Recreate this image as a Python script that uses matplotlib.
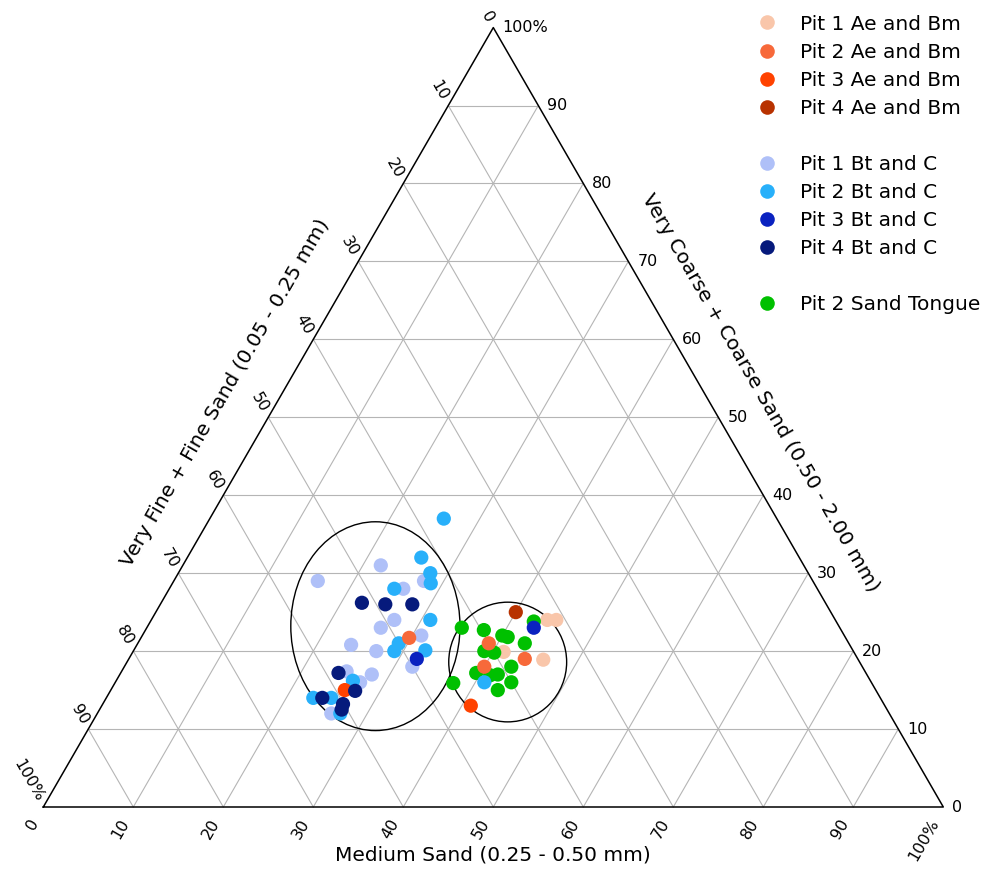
import numpy as np
import matplotlib
matplotlib.use("Agg")
import matplotlib.pyplot as plt
from matplotlib.lines import Line2D
from matplotlib.patches import Ellipse

plt.rcParams['font.family'] = ['DejaVu Sans']

# composition of each sample in percent: fine, medium, coarse
pit1_ae_fine = [32.0, 31.0, 38.9, 35.0]
pit1_ae_medium = [44.0, 45.0, 41.2, 46.1]
pit1_ae_coarse = [24.0, 24.0, 19.9, 18.9]

pit2_ae_fine = [48.5, 40.0, 37.0, 42.0]
pit2_ae_medium = [29.8, 39.0, 44.0, 40.0]
pit2_ae_coarse = [21.7, 21.0, 19.0, 18.0]

pit3_ae_fine = [59.0, 46.0]
pit3_ae_medium = [26.0, 41.0]
pit3_ae_coarse = [15.0, 13.0]

pit4_ae_fine = [35.0]
pit4_ae_medium = [40.0]
pit4_ae_coarse = [25.0]

pit1_bt_fine = [47.0, 55.0, 43.2, 46.0, 49.0, 51.0, 47.0, 55.4, 53.0, 50.0, 55.0, 56.8, 57.6, 62.0]
pit1_bt_medium = [22.0, 16.0, 27.8, 26.0, 27.0, 26.0, 31.0, 23.8, 27.0, 32.0, 28.0, 27.2, 25.0, 26.0]
pit1_bt_coarse = [31.0, 29.0, 29.0, 28.0, 24.0, 23.0, 22.0, 20.8, 20.0, 18.0, 17.0, 16.0, 17.4, 12.0]

pit2_bt_fine = [37.0, 42.0, 42.0, 42.6, 47.0, 45.0, 50.0, 51.0, 47.5, 57.5, 63.0, 61.0, 61.0, 43.0]
pit2_bt_medium = [26.0, 26.0, 28.0, 28.7, 25.0, 31.0, 29.0, 29.0, 32.4, 26.3, 23.0, 25.0, 27.0, 41.0]
pit2_bt_coarse = [37.0, 32.0, 30.0, 28.7, 28.0, 24.0, 21.0, 20.0, 20.1, 16.2, 14.0, 14.0, 12.0, 16.0]

pit3_bt_fine = [49.0, 34.0]
pit3_bt_medium = [32.0, 43.0]
pit3_bt_coarse = [19.0, 23.0]

pit4_bt_fine = [51.5, 49.0, 46.0, 58.6, 57.9, 62.0, 60.1, 60.6]
pit4_bt_medium = [22.3, 25.0, 28.0, 24.2, 27.2, 24.0, 26.7, 26.9]
pit4_bt_coarse = [26.2, 26.0, 26.0, 17.2, 14.9, 14.0, 13.2, 12.5]

tongue_fine = [42.0, 39.7, 33.6, 38.0, 37.5, 36.0, 41.0, 40.0, 39.0, 43.3, 41.9, 41.0, 40.0, 42.0, 46.5]
tongue_medium = [35.0, 37.6, 42.6, 40.0, 40.7, 43.0, 39.0, 40.2, 43.0, 39.5, 41.2, 42.0, 44.0, 43.0, 37.6]
tongue_coarse = [23.0, 22.7, 23.8, 22.0, 21.8, 21.0, 20.0, 19.8, 18.0, 17.2, 16.9, 17.0, 16.0, 15.0, 15.9]

# grouping ellipses: centre (fine, medium, coarse), width, height in % of side
ellipse_centres = [(51.5, 25.3, 23.2), (39.1, 42.3, 18.6)]
ellipse_sizes = [(18.8, 23.2), (13.1, 13.3)]

legend_labels = ['Pit 1 Ae and Bm', 'Pit 2 Ae and Bm', 'Pit 3 Ae and Bm', 'Pit 4 Ae and Bm',
                 'Pit 1 Bt and C', 'Pit 2 Bt and C', 'Pit 3 Bt and C', 'Pit 4 Bt and C',
                 'Pit 2 Sand Tongue']
colors = {
    'Pit 1 Ae and Bm': '#f9c6aa',
    'Pit 2 Ae and Bm': '#f7693a',
    'Pit 3 Ae and Bm': '#ff4200',
    'Pit 4 Ae and Bm': '#b83200',
    'Pit 1 Bt and C': '#afc0f8',
    'Pit 2 Bt and C': '#28b0fa',
    'Pit 3 Bt and C': '#0a22c0',
    'Pit 4 Bt and C': '#061a7c',
    'Pit 2 Sand Tongue': '#00c000',
}

series = {
    'Pit 1 Ae and Bm': (pit1_ae_medium, pit1_ae_coarse),
    'Pit 2 Ae and Bm': (pit2_ae_medium, pit2_ae_coarse),
    'Pit 3 Ae and Bm': (pit3_ae_medium, pit3_ae_coarse),
    'Pit 4 Ae and Bm': (pit4_ae_medium, pit4_ae_coarse),
    'Pit 1 Bt and C': (pit1_bt_medium, pit1_bt_coarse),
    'Pit 2 Bt and C': (pit2_bt_medium, pit2_bt_coarse),
    'Pit 3 Bt and C': (pit3_bt_medium, pit3_bt_coarse),
    'Pit 4 Bt and C': (pit4_bt_medium, pit4_bt_coarse),
    'Pit 2 Sand Tongue': (tongue_medium, tongue_coarse),
}
draw_order = ['Pit 1 Ae and Bm', 'Pit 2 Sand Tongue', 'Pit 1 Bt and C', 'Pit 2 Bt and C',
              'Pit 2 Ae and Bm', 'Pit 3 Ae and Bm', 'Pit 4 Ae and Bm', 'Pit 3 Bt and C',
              'Pit 4 Bt and C']

ticks = list(range(0, 101, 10))
S3 = np.sqrt(3) / 2


def to_xy(medium, coarse):
    medium = np.asarray(medium, dtype=float)
    coarse = np.asarray(coarse, dtype=float)
    return medium + coarse / 2, coarse * S3


fig = plt.figure(figsize=(9.89, 8.69), dpi=100)
ax = fig.add_axes([0, 0, 1, 1])
ax.set_xlim(-43.3 / 9, (989 - 43.3) / 9)
ax.set_ylim((807 - 869) / 9, 807 / 9)
ax.set_aspect('equal')
ax.axis('off')

grid_kw = dict(color='#b5b5b5', lw=0.8, zorder=1)
for v in ticks[1:-1]:
    # constant coarse
    x, y = to_xy([0, 100 - v], [v, v])
    ax.plot(x, y, **grid_kw)
    # constant medium
    x, y = to_xy([v, v], [0, 100 - v])
    ax.plot(x, y, **grid_kw)
    # constant fine
    x, y = to_xy([100 - v, 0], [0, 100 - v])
    ax.plot(x, y, **grid_kw)

x, y = to_xy([0, 100, 0, 0], [0, 0, 100, 0])
ax.plot(x, y, color='black', lw=1.1, zorder=2)

tick_fs = 11.5
for v in ticks:
    lab = '100%' if v == 100 else str(v)
    # bottom: medium
    bx, by = to_xy(v, 0)
    ax.text(bx - 1.7 * 0.5, by - 1.7 * S3, lab, rotation=60, rotation_mode='anchor',
            ha='right', va='center', fontsize=tick_fs)
    # left: fine
    lx, ly = to_xy(0, 100 - v)
    ax.text(lx - 0.8 * 0.5, ly + 0.8 * S3, lab, rotation=-60, rotation_mode='anchor',
            ha='right', va='center', fontsize=tick_fs)
    # right: coarse
    rx, ry = to_xy(100 - v, v)
    ax.text(rx + 1.0, ry, lab, ha='left', va='center', fontsize=tick_fs)

title_fs = 14.5
ax.text(50, -5.3, 'Medium Sand (0.25 - 0.50 mm)', ha='center', va='center', fontsize=title_fs)
ax.text(25 - 5.5 * S3, 50 * S3 + 5.5 * 0.5, 'Very Fine + Fine Sand (0.05 - 0.25 mm)',
        rotation=60, ha='center', va='center', rotation_mode='anchor', fontsize=title_fs)
ax.text(75 + 5.4 * S3, 50 * S3 + 5.4 * 0.5, 'Very Coarse + Coarse Sand (0.50 - 2.00 mm)',
        rotation=-60, ha='center', va='center', rotation_mode='anchor', fontsize=title_fs)

for (f, m, c), (w, h) in zip(ellipse_centres, ellipse_sizes):
    cx, cy = to_xy(m, c)
    ax.add_patch(Ellipse((float(cx), float(cy)), w, h, fill=False, ec='black', lw=1.0, zorder=3))

for i, name in enumerate(draw_order):
    m, c = series[name]
    x, y = to_xy(m, c)
    ax.scatter(x, y, s=105, color=colors[name], edgecolors='none', zorder=4 + i)

handles = []
labels = []
for i, name in enumerate(legend_labels):
    if i in (4, 8):
        handles.append(Line2D([], [], linestyle='none'))
        labels.append(' ')
    handles.append(Line2D([], [], linestyle='none', marker='o', markersize=10.5,
                          markerfacecolor=colors[name], markeredgecolor='none'))
    labels.append(name)

fig.legend(handles, labels, loc='upper left', bbox_to_anchor=(756.6 / 989, 1 - 14.5 / 869),
           frameon=False, fontsize=title_fs, handlelength=1.0, handletextpad=1.14,
           labelspacing=0.45, borderpad=0, borderaxespad=0)

fig.savefig('out.png', dpi=100)
